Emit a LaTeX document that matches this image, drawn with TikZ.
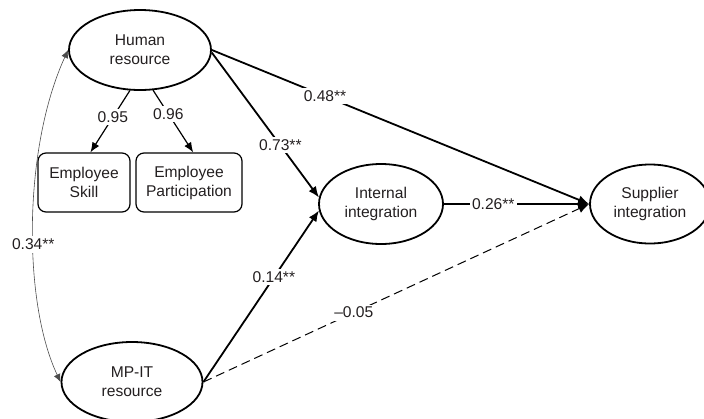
\documentclass[tikz,border=0pt]{standalone}
\usepackage{fontspec}
\setmainfont{Liberation Sans}
\usetikzlibrary{arrows.meta,shapes.geometric,calc}
\definecolor{txt}{HTML}{231F20}
\begin{document}
\begin{tikzpicture}[x=1pt,y=-1pt,
  font=\fontsize{15.6}{19}\selectfont, text=txt,
  latent/.style={ellipse,draw,line width=1.8pt,inner sep=0pt,align=center},
  obs/.style={rectangle,rounded corners=8pt,draw,line width=1.2pt,inner sep=0pt,align=center,minimum height=59pt},
  path/.style={line width=1.8pt,-{Latex[length=11pt,width=9pt]}},
  lab/.style={fill=white,inner sep=2.5pt}]
\useasboundingbox (0,0) rectangle (704,418);
\node[latent,minimum width=142pt,minimum height=80pt] (hr) at (140,50) {Human\\resource};
\node[latent,minimum width=124pt,minimum height=80pt] (ii) at (381,204) {Internal\\integration};
\node[latent,minimum width=120pt,minimum height=79pt] (si) at (650,204) {Supplier\\integration};
\node[latent,minimum width=141pt,minimum height=80pt] (mp) at (132,382) {MP-IT\\resource};
\node[obs,minimum width=92pt] (sk) at (84,182.5) {Employee\\Skill};
\node[obs,minimum width=106pt] (pa) at (189,182.5) {Employee\\Participation};

\draw[path,line width=1.2pt,-{Latex[length=10pt,width=8pt]}] (hr.256) -- (sk.78.5) node[lab,pos=0.43] {0.95};
\draw[path,line width=1.2pt,-{Latex[length=10pt,width=8pt]}] (hr.288) -- (pa.82) node[lab,pos=0.38] {0.96};
\draw[path] (hr.-2) -- (ii.174) node[lab,pos=0.64] {0.73**};
\draw[path] (hr.0) -- (si.west) node[lab,pos=0.30] {0.48**};
\draw[path] (ii.east) -- (si.west) node[lab,pos=0.34] {0.26**};
\draw[path] (mp.east) -- (ii.186) node[lab,pos=0.61] {0.14**};
\draw[path,line width=1pt,dash pattern=on 9pt off 5pt] (mp.east) -- (si.west) node[lab,pos=0.39] {–0.05};
\draw[line width=0.6pt,draw=black!70,{Latex[length=8pt,width=7pt]}-{Latex[length=8pt,width=7pt]}]
  (hr.west) .. controls +(-45,98) and +(-38,-80) .. (mp.west) node[lab,pos=0.56] {0.34**};
\end{tikzpicture}
\end{document}
